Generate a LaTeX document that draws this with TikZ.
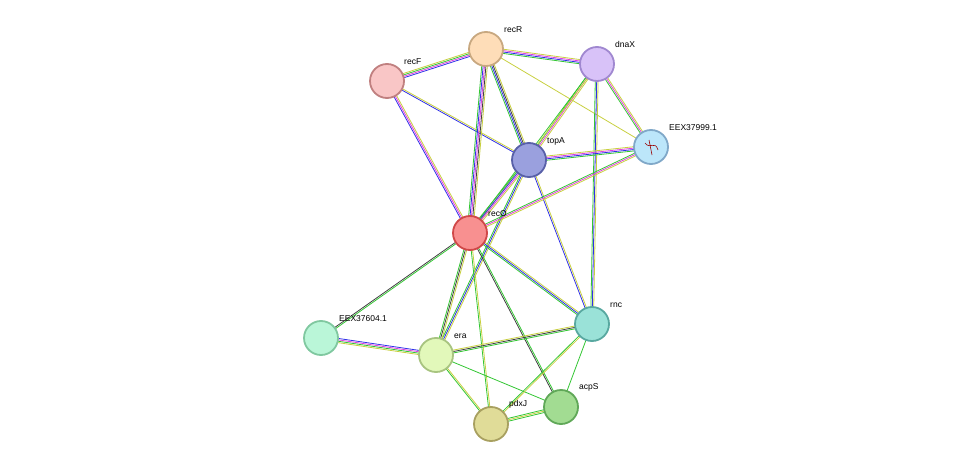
\documentclass[tikz,border=0pt]{standalone}
\usepackage{fontspec}
\setmainfont{Liberation Sans}
\usetikzlibrary{calc}
\definecolor{g}{HTML}{33C633}
\definecolor{b}{HTML}{3030E8}
\definecolor{m}{HTML}{E040E0}
\definecolor{y}{HTML}{C8D040}
\definecolor{k}{HTML}{404040}
\newcommand\hc[2]{\definecolor{#1}{HTML}{#2}}
\hc{fF}{F9C6C6}\hc{dF}{C08080}
\hc{fR}{FEDDB8}\hc{dR}{C8A880}
\hc{fD}{D8C2F8}\hc{dD}{A088D0}
\hc{f9}{BCE6FA}\hc{d9}{80A8C8}
\hc{fT}{9AA0DE}\hc{dT}{5860A8}
\hc{fO}{F89090}\hc{dO}{D04848}
\hc{f4}{BAF6D8}\hc{d4}{80C8A0}
\hc{fE}{E2F8BA}\hc{dE}{A8C480}
\hc{fN}{9AE2D8}\hc{dN}{58A8A0}
\hc{fA}{A2DC92}\hc{dA}{60A858}
\hc{fP}{E0DC98}\hc{dP}{A8A060}
\newcommand\ed[4]{\foreach[count=\i] \c in {#4}{%
  \pgfmathsetmacro\o{(\i-(#3+1)/2)*1.4}%
  \draw[color=\c,line width=0.8pt] ($(#1)!\o pt!90:(#2)$) -- ($(#2)!\o pt!-90:(#1)$);}}
\tikzset{prot/.style 2 args={circle,minimum size=34pt,inner sep=0pt,fill=#1,draw=#2,line width=1.8pt},
lab/.style={font=\fontsize{8.5}{10}\selectfont,inner sep=1pt}}
\begin{document}
\begin{tikzpicture}[x=1pt,y=-1pt]
\useasboundingbox (0,0) rectangle (976,470);
\coordinate (recR) at (486,49);
\coordinate (recF) at (387,81);
\coordinate (dnaX) at (597,64);
\coordinate (E9) at (651,147);
\coordinate (topA) at (529,160);
\coordinate (recO) at (470,233);
\coordinate (E4) at (321,338);
\coordinate (era) at (436,355);
\coordinate (rnc) at (592,324);
\coordinate (acpS) at (561,407);
\coordinate (pdxJ) at (491,424);
\ed{recF}{recR}{4}{b,m,g,y}
\ed{recF}{topA}{2}{b,y}
\ed{recF}{recO}{3}{b,m,y}
\ed{recR}{dnaX}{4}{g,b,m,y}
\ed{recR}{topA}{4}{g,b,k,y}
\ed{recR}{recO}{5}{g,b,m,k,y}
\ed{recR}{E9}{1}{y}
\ed{dnaX}{topA}{3}{g,m,y}
\ed{dnaX}{E9}{3}{g,m,y}
\ed{dnaX}{recO}{2}{g,y}
\ed{dnaX}{rnc}{3}{g,b,y}
\ed{topA}{E9}{4}{g,b,m,y}
\ed{topA}{recO}{4}{g,b,m,y}
\ed{topA}{rnc}{2}{b,y}
\ed{topA}{era}{3}{g,b,y}
\ed{E9}{recO}{3}{g,m,y}
\ed{recO}{E4}{2}{k,g}
\ed{recO}{era}{3}{g,k,y}
\ed{recO}{rnc}{3}{g,b,y}
\ed{recO}{acpS}{2}{k,g}
\ed{recO}{pdxJ}{2}{g,y}
\ed{era}{E4}{4}{b,m,g,y}
\ed{era}{rnc}{3}{g,k,y}
\ed{era}{pdxJ}{2}{g,y}
\ed{era}{acpS}{1}{g}
\ed{rnc}{pdxJ}{2}{g,y}
\ed{rnc}{acpS}{1}{g}
\ed{pdxJ}{acpS}{3}{g,y,g}
\node[prot={fF}{dF}] (nrecF) at (recF) {};
\node[prot={fR}{dR}] (nrecR) at (recR) {};
\node[prot={fD}{dD}] (ndnaX) at (dnaX) {};
\node[prot={f9}{d9}] (nE9) at (E9) {};
\node[prot={fT}{dT}] (ntopA) at (topA) {};
\node[prot={fO}{dO}] (nrecO) at (recO) {};
\node[prot={f4}{d4}] (nE4) at (E4) {};
\node[prot={fE}{dE}] (nera) at (era) {};
\node[prot={fN}{dN}] (nrnc) at (rnc) {};
\node[prot={fA}{dA}] (nacpS) at (acpS) {};
\node[prot={fP}{dP}] (npdxJ) at (pdxJ) {};
\draw[red!60!black,line width=0.6pt] (645,143) .. controls (650,150) and (655,140) .. (658,150);
\draw[red!60!black,line width=0.6pt] (649,140) -- (652,155);
\node[lab,anchor=south west] at (403,66) {recF};
\node[lab,anchor=south west] at (503,34) {recR};
\node[lab,anchor=south west] at (614,49) {dnaX};
\node[lab,anchor=south west] at (668,132) {EEX37999.1};
\node[lab,anchor=south west] at (546,146) {topA};
\node[lab,anchor=south west] at (487,218) {recO};
\node[lab,anchor=south west] at (338,323) {EEX37604.1};
\node[lab,anchor=south west] at (453,340) {era};
\node[lab,anchor=south west] at (609,309) {rnc};
\node[lab,anchor=south west] at (578,392) {acpS};
\node[lab,anchor=south west] at (508,409) {pdxJ};
\end{tikzpicture}
\end{document}
